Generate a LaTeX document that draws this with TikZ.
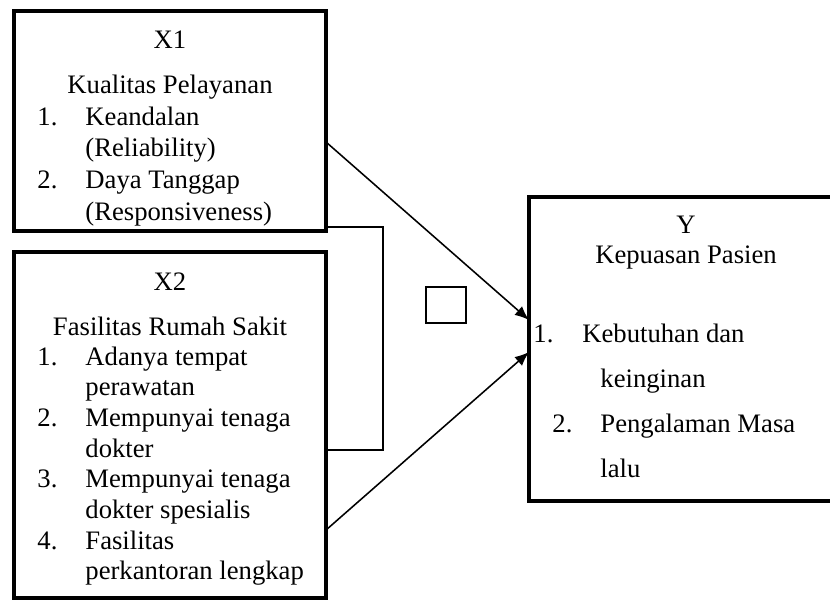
\documentclass[tikz,border=0pt]{standalone}
\usepackage{fontspec}
\setmainfont{Liberation Serif}
\usepackage{tikz}
\usetikzlibrary{arrows.meta,positioning,calc}
\tikzset{
  frame/.style={draw=black,line width=2.1pt,inner sep=0pt,outer sep=0pt},
  smallbox/.style={draw=black,line width=.75pt,inner sep=0pt,minimum width=18pt,minimum height=16.2pt},
  txt/.style={inner sep=0pt,font=\fontsize{12}{14.3}\selectfont},
  link/.style={-{Latex[length=6.4pt,width=5.2pt]},draw=black,line width=.7pt},
  plainline/.style={draw=black,line width=.7pt}
}

\begin{document}
\begin{tikzpicture}[x=.45pt,y=-.45pt]
        \useasboundingbox (0,0) rectangle (830,601);
        \clip (0,0) rectangle (830,601);
        \node[frame,minimum width=140.4pt,minimum height=99pt] (x1) at (170,121) {};
        \node[frame,minimum width=140.4pt,minimum height=155.7pt] (x2) at (170,425) {};
        \node[frame,minimum width=144pt,minimum height=136.8pt] (y) at (689,349) {};
        \node[smallbox] (gap) at (446,305) {};
        % X1
        \node[txt,anchor=base] (x1t) at (170,48) {X1};
        \node[txt,anchor=base] (x1n) at (170,93) {Kualitas Pelayanan};
        \node[txt,anchor=base west] (x1l) at (37,125) {\begin{tabular}[t]{@{}p{21.6pt}@{}l@{}}1.&Keandalan\\&(Reliability)\\2.&Daya Tanggap\\&(Responsiveness)\end{tabular}};
        % X2
        \node[txt,anchor=base] (x2t) at (170,290) {X2};
        \node[txt,anchor=base] (x2n) at (170,335) {Fasilitas Rumah Sakit};
        \node[txt,anchor=base west,font=\fontsize{12}{13.8}\selectfont] (x2l) at (37,365) {\begin{tabular}[t]{@{}p{21.6pt}@{}l@{}}1.&Adanya tempat\\&perawatan\\2.&Mempunyai tenaga\\&dokter\\3.&Mempunyai tenaga\\&dokter spesialis\\4.&Fasilitas\\&perkantoran lengkap\end{tabular}};
        % Y
        \node[txt,anchor=base] (yt) at (686,233) {Y};
        \node[txt,anchor=base] (yn) at (686,263) {Kepuasan Pasien};
        \node[txt,anchor=base west,font=\fontsize{12}{20.25}\selectfont] (yl) at (533,342) {\begin{tabular}[t]{@{}l@{}}\makebox[22pt][l]{1.}Kebutuhan dan\\\hspace*{30.15pt}keinginan\\\hspace*{8.55pt}\makebox[21.6pt][l]{2.}Pengalaman Masa\\\hspace*{30.15pt}lalu\end{tabular}};
        % connectors
        \draw[plainline] ($(x1.south east)+(0,-4)$) -| ($(x2.north east)+(57,198)$) -- ($(x2.north east)+(0,198)$);
        \draw[link] ($(x1.east)+(0,21)$) -- ($(y.west)+(0,-29)$);
        \draw[link] ($(x2.east)+(0,105)$) -- ($(y.west)+(0,3)$);
      \end{tikzpicture}
\end{document}
